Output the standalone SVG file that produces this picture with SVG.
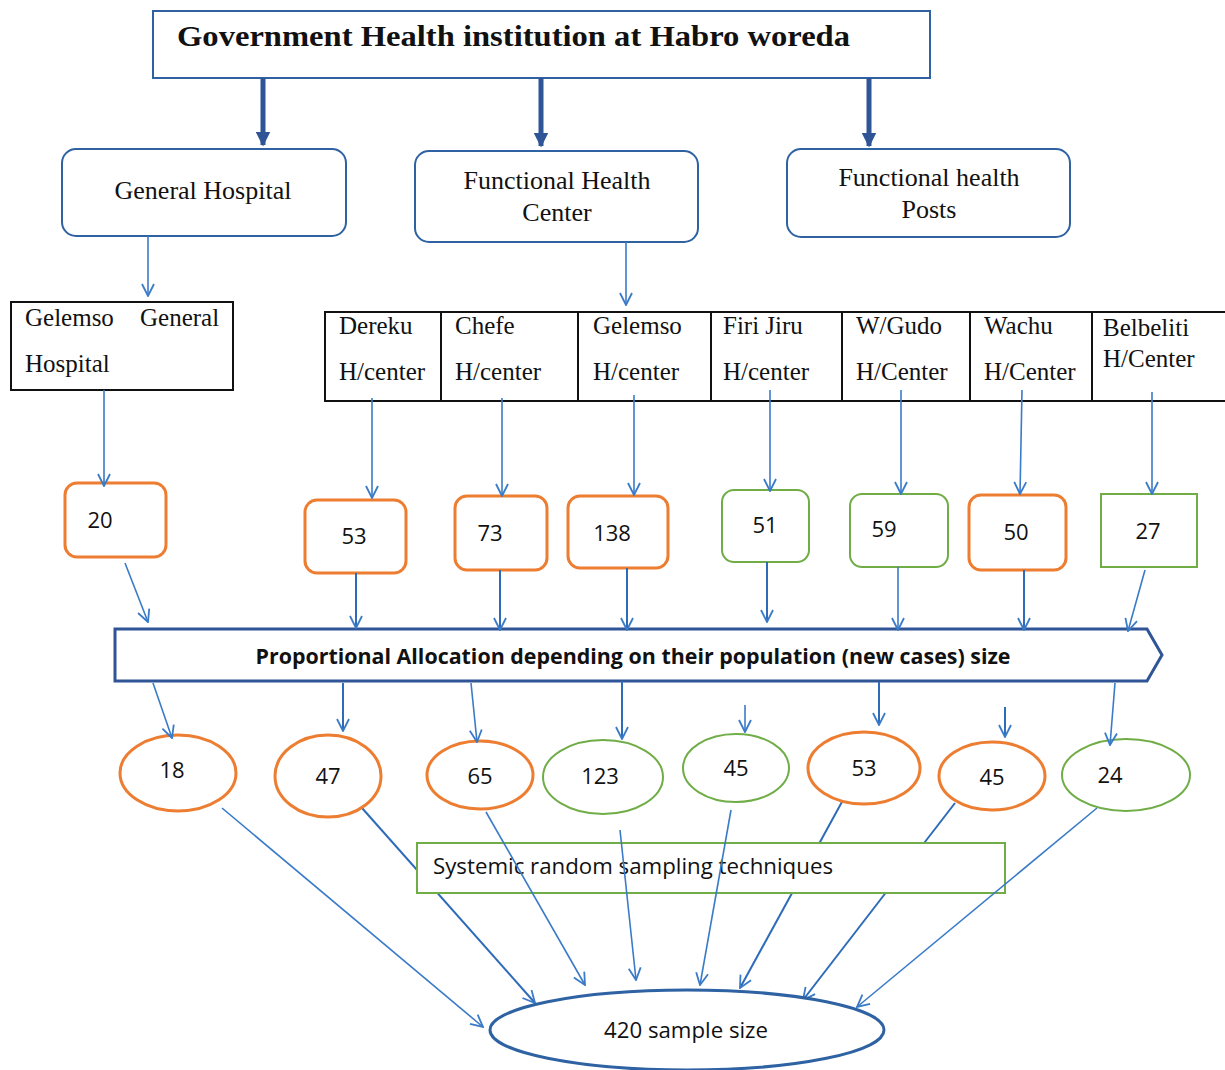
<svg xmlns="http://www.w3.org/2000/svg" width="1225" height="1070" viewBox="0 0 1225 1070">
<defs>
<style>
.serif{font-family:"Liberation Serif","Times New Roman",serif;fill:#111}
.sans{font-family:"Open Sans","Liberation Sans",sans-serif;fill:#111}
.rbox{fill:#fff;stroke:#2e62a3;stroke-width:2}
.bbox{fill:#fff;stroke:#111;stroke-width:2}
.org{fill:#fff;stroke:#ed7d31;stroke-width:3}
.grn{fill:#fff;stroke:#70ad47;stroke-width:2}
.thick{stroke:#2f5597;stroke-width:5;fill:none}
.thin{stroke:#3a7bc8;stroke-width:1.6;fill:none}
.mid{stroke:#2e6bb8;stroke-width:2;fill:none}
</style>
<marker id="tri" viewBox="0 0 10 10" refX="9" refY="5" markerWidth="3" markerHeight="3" orient="auto" markerUnits="strokeWidth">
<path d="M0,0 L10,5 L0,10 z" fill="#2f5597"/>
</marker>
<marker id="vee" viewBox="0 0 14 14" refX="13" refY="7" markerWidth="14" markerHeight="14" orient="auto" markerUnits="userSpaceOnUse">
<path d="M1,1 L13,7 L1,13" fill="none" stroke="#3a7bc8" stroke-width="1.8"/>
</marker>
</defs>
<rect width="1225" height="1070" fill="#fff"/>

<g id="connectors-back">
<line class="thin" x1="222" y1="808" x2="483" y2="1027" marker-end="url(#vee)"/>
<line class="mid" x1="362" y1="808" x2="535" y2="1003" marker-end="url(#vee)"/>
<line class="mid" x1="843" y1="800" x2="740" y2="988" marker-end="url(#vee)"/>
<line class="mid" x1="955" y1="803" x2="803" y2="1000" marker-end="url(#vee)"/>
</g>

<g id="top">
<rect x="153" y="11" width="777" height="67" fill="#fff" stroke="#2e62a3" stroke-width="2"/>
<text class="serif" x="177" y="46" font-size="30" font-weight="bold" textLength="673" lengthAdjust="spacingAndGlyphs">Government Health institution at Habro woreda</text>
</g>

<g id="general-hospital">
<rect class="rbox" x="62" y="149" width="284" height="87" rx="14"/>
<text class="serif" x="203" y="199" font-size="26" text-anchor="middle">General Hospital</text>
</g>
<g id="functional-health-center">
<rect class="rbox" x="415" y="151" width="283" height="91" rx="14"/>
<text class="serif" x="557" y="189" font-size="26" text-anchor="middle">Functional Health</text>
<text class="serif" x="557" y="221" font-size="26" text-anchor="middle">Center</text>
</g>
<g id="functional-health-posts">
<rect class="rbox" x="787" y="149" width="283" height="88" rx="14"/>
<text class="serif" x="929" y="186" font-size="26" text-anchor="middle">Functional health</text>
<text class="serif" x="929" y="218" font-size="26" text-anchor="middle">Posts</text>
</g>

<g id="gelemso-general-hospital">
<rect class="bbox" x="11" y="302" width="222" height="88"/>
<text class="serif" x="25" y="326" font-size="25">Gelemso</text>
<text class="serif" x="140" y="326" font-size="25">General</text>
<text class="serif" x="25" y="372" font-size="25">Hospital</text>
</g>

<g id="health-centers">
<rect class="bbox" x="325" y="312" width="910" height="89"/>
<line x1="441" y1="312" x2="441" y2="401" stroke="#111" stroke-width="2"/>
<line x1="578" y1="312" x2="578" y2="401" stroke="#111" stroke-width="2"/>
<line x1="711" y1="312" x2="711" y2="401" stroke="#111" stroke-width="2"/>
<line x1="842" y1="312" x2="842" y2="401" stroke="#111" stroke-width="2"/>
<line x1="970" y1="312" x2="970" y2="401" stroke="#111" stroke-width="2"/>
<line x1="1092" y1="312" x2="1092" y2="401" stroke="#111" stroke-width="2"/>
<g id="hc-dereku"><text class="serif" x="339" y="334" font-size="25">Dereku</text><text class="serif" x="339" y="380" font-size="25">H/center</text></g>
<g id="hc-chefe"><text class="serif" x="455" y="334" font-size="25">Chefe</text><text class="serif" x="455" y="380" font-size="25">H/center</text></g>
<g id="hc-gelemso"><text class="serif" x="593" y="334" font-size="25">Gelemso</text><text class="serif" x="593" y="380" font-size="25">H/center</text></g>
<g id="hc-firijiru"><text class="serif" x="723" y="334" font-size="25">Firi Jiru</text><text class="serif" x="723" y="380" font-size="25">H/center</text></g>
<g id="hc-wgudo"><text class="serif" x="856" y="334" font-size="25">W/Gudo</text><text class="serif" x="856" y="380" font-size="25">H/Center</text></g>
<g id="hc-wachu"><text class="serif" x="984" y="334" font-size="25">Wachu</text><text class="serif" x="984" y="380" font-size="25">H/Center</text></g>
<g id="hc-belbeliti"><text class="serif" x="1103" y="336" font-size="25">Belbeliti</text><text class="serif" x="1103" y="367" font-size="25">H/Center</text></g>
</g>

<g id="count-20"><rect class="org" x="65" y="483" width="101" height="74" rx="12"/><text class="sans" x="100" y="528" font-size="22" text-anchor="middle">20</text></g>
<g id="count-53"><rect class="org" x="305" y="500" width="101" height="73" rx="12"/><text class="sans" x="354" y="544" font-size="22" text-anchor="middle">53</text></g>
<g id="count-73"><rect class="org" x="455" y="496" width="92" height="74" rx="12"/><text class="sans" x="490" y="541" font-size="22" text-anchor="middle">73</text></g>
<g id="count-138"><rect class="org" x="568" y="496" width="100" height="72" rx="12"/><text class="sans" x="612" y="541" font-size="22" text-anchor="middle">138</text></g>
<g id="count-51"><rect class="grn" x="722" y="490" width="87" height="72" rx="12"/><text class="sans" x="765" y="533" font-size="22" text-anchor="middle">51</text></g>
<g id="count-59"><rect class="grn" x="850" y="494" width="98" height="73" rx="12"/><text class="sans" x="884" y="537" font-size="22" text-anchor="middle">59</text></g>
<g id="count-50"><rect class="org" x="969" y="495" width="97" height="75" rx="12"/><text class="sans" x="1016" y="540" font-size="22" text-anchor="middle">50</text></g>
<g id="count-27"><rect class="grn" x="1101" y="494" width="96" height="73"/><text class="sans" x="1148" y="539" font-size="22" text-anchor="middle">27</text></g>

<g id="proportional-allocation">
<path d="M115,629 L1147,629 L1162,655 L1147,681 L115,681 Z" fill="#fff" stroke="#2f5597" stroke-width="3"/>
<text class="sans" x="633" y="664" font-size="22" font-weight="bold" text-anchor="middle" textLength="755" lengthAdjust="spacingAndGlyphs">Proportional Allocation depending on their population (new cases) size</text>
</g>

<g id="alloc-18"><ellipse class="org" cx="178" cy="773" rx="58" ry="38"/><text class="sans" x="172" y="778" font-size="22" text-anchor="middle">18</text></g>
<g id="alloc-47"><ellipse class="org" cx="328" cy="776" rx="53" ry="41"/><text class="sans" x="328" y="784" font-size="22" text-anchor="middle">47</text></g>
<g id="alloc-65"><ellipse class="org" cx="480" cy="775" rx="53" ry="34"/><text class="sans" x="480" y="784" font-size="22" text-anchor="middle">65</text></g>
<g id="alloc-123"><ellipse class="grn" cx="603" cy="777" rx="60" ry="37"/><text class="sans" x="600" y="784" font-size="22" text-anchor="middle">123</text></g>
<g id="alloc-45a"><ellipse class="grn" cx="736" cy="768" rx="53" ry="34"/><text class="sans" x="736" y="776" font-size="22" text-anchor="middle">45</text></g>
<g id="alloc-53"><ellipse class="org" cx="864" cy="768" rx="56" ry="36"/><text class="sans" x="864" y="776" font-size="22" text-anchor="middle">53</text></g>
<g id="alloc-45b"><ellipse class="org" cx="992" cy="776" rx="53" ry="34"/><text class="sans" x="992" y="785" font-size="22" text-anchor="middle">45</text></g>
<g id="alloc-24"><ellipse class="grn" cx="1126" cy="775" rx="64" ry="36"/><text class="sans" x="1110" y="783" font-size="22" text-anchor="middle">24</text></g>

<g id="systemic-sampling">
<rect x="417" y="843" width="588" height="50" fill="#fff" stroke="#70ad47" stroke-width="2"/>
<text class="sans" x="433" y="874" font-size="22" textLength="400" lengthAdjust="spacingAndGlyphs">Systemic random sampling techniques</text>
</g>

<g id="sample-size">
<ellipse cx="687" cy="1030" rx="197" ry="40" fill="#fff" stroke="#2e62a3" stroke-width="3"/>
<text class="sans" x="686" y="1038" font-size="22" text-anchor="middle" textLength="164" lengthAdjust="spacingAndGlyphs">420 sample size</text>
</g>

<g id="connectors">
<line class="thick" x1="263" y1="78" x2="263" y2="145" marker-end="url(#tri)"/>
<line class="thick" x1="541" y1="78" x2="541" y2="146" marker-end="url(#tri)"/>
<line class="thick" x1="869" y1="78" x2="869" y2="146" marker-end="url(#tri)"/>
<line class="thin" x1="148" y1="236" x2="148" y2="296" marker-end="url(#vee)"/>
<line class="thin" x1="626" y1="242" x2="626" y2="305" marker-end="url(#vee)"/>
<line class="thin" x1="104" y1="390" x2="104" y2="486" marker-end="url(#vee)"/>
<line class="thin" x1="372" y1="398" x2="372" y2="498" marker-end="url(#vee)"/>
<line class="thin" x1="502" y1="398" x2="502" y2="496" marker-end="url(#vee)"/>
<line class="thin" x1="634" y1="395" x2="634" y2="495" marker-end="url(#vee)"/>
<line class="thin" x1="770" y1="390" x2="770" y2="491" marker-end="url(#vee)"/>
<line class="thin" x1="901" y1="390" x2="901" y2="494" marker-end="url(#vee)"/>
<line class="thin" x1="1022" y1="390" x2="1020" y2="494" marker-end="url(#vee)"/>
<line class="thin" x1="1152" y1="392" x2="1152" y2="494" marker-end="url(#vee)"/>
<line class="thin" x1="125" y1="563" x2="148" y2="622" marker-end="url(#vee)"/>
<line class="mid" x1="356" y1="573" x2="356" y2="628" marker-end="url(#vee)"/>
<line class="mid" x1="500" y1="570" x2="500" y2="630" marker-end="url(#vee)"/>
<line class="mid" x1="627" y1="568" x2="627" y2="630" marker-end="url(#vee)"/>
<line class="mid" x1="767" y1="562" x2="767" y2="622" marker-end="url(#vee)"/>
<line class="thin" x1="898" y1="567" x2="898" y2="630" marker-end="url(#vee)"/>
<line class="mid" x1="1024" y1="570" x2="1024" y2="630" marker-end="url(#vee)"/>
<line class="thin" x1="1145" y1="570" x2="1128" y2="631" marker-end="url(#vee)"/>
<line class="thin" x1="153" y1="683" x2="172" y2="738" marker-end="url(#vee)"/>
<line class="mid" x1="343" y1="683" x2="343" y2="731" marker-end="url(#vee)"/>
<line class="thin" x1="471" y1="683" x2="477" y2="742" marker-end="url(#vee)"/>
<line class="mid" x1="622" y1="681" x2="622" y2="739" marker-end="url(#vee)"/>
<line class="thin" x1="745" y1="705" x2="745" y2="732" marker-end="url(#vee)"/>
<line class="mid" x1="879" y1="682" x2="879" y2="725" marker-end="url(#vee)"/>
<line class="mid" x1="1005" y1="707" x2="1005" y2="737" marker-end="url(#vee)"/>
<line class="thin" x1="1115" y1="683" x2="1110" y2="745" marker-end="url(#vee)"/>
<line class="thin" x1="486" y1="812" x2="585" y2="985" marker-end="url(#vee)"/>
<line class="thin" x1="620" y1="830" x2="636" y2="980" marker-end="url(#vee)"/>
<line class="thin" x1="731" y1="810" x2="700" y2="985" marker-end="url(#vee)"/>
<line class="thin" x1="1097" y1="808" x2="857" y2="1007" marker-end="url(#vee)"/>
</g>
</svg>
